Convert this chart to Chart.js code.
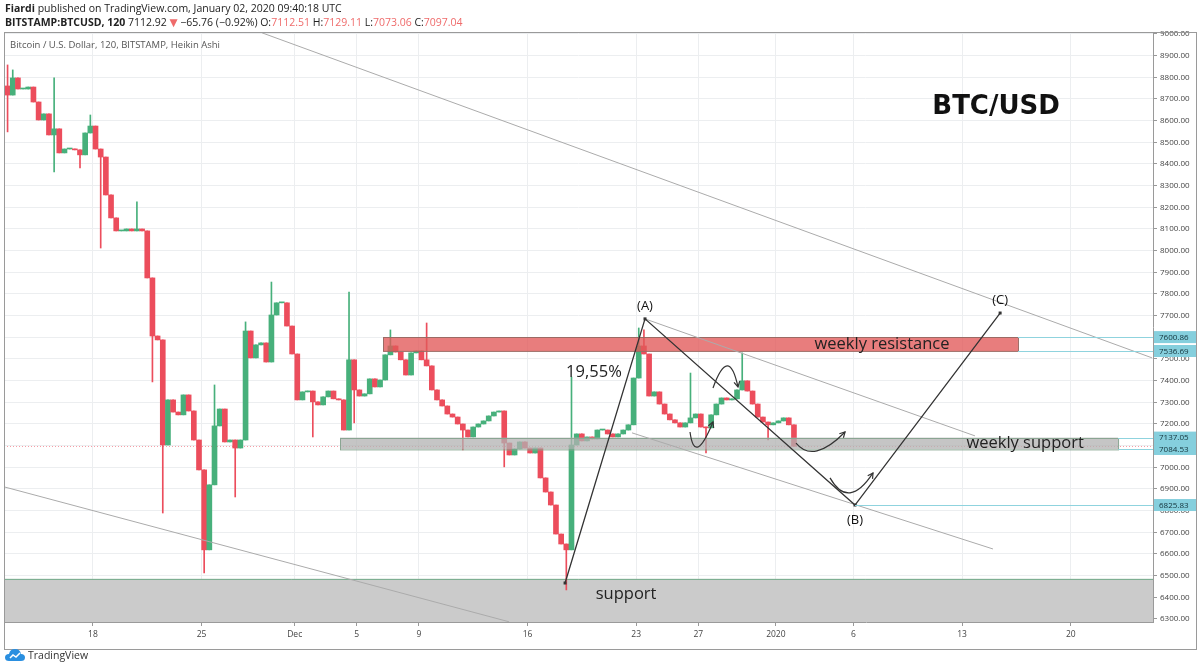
<!DOCTYPE html>
<html>
<head>
<meta charset="utf-8">
<title>BTC/USD Heikin Ashi</title>
<script src="https://cdn.jsdelivr.net/npm/chart.js@4.4.1/dist/chart.umd.min.js"></script>
<style>
    html, body { margin: 0; padding: 0; background: #fff; }
    #wrap { position: relative; width: 1200px; height: 670px; overflow: hidden; font-family: 'Open Sans', 'DejaVu Sans', sans-serif; color: #222; }
    #chart { position: absolute; left: 0; top: 0; }
    .hd { position: absolute; left: 5px; font-size: 10.5px; white-space: nowrap; }
    .hd1 { top: 1px; }
    .hd2 { top: 15px; }
    .hd .r { color: #ef6b6b; }
    .legend { position: absolute; left: 10px; top: 38px; font-size: 9.5px; color: #555; }
    .brand { position: absolute; left: 5px; top: 648px; font-size: 10.5px; color: #333; display: flex; align-items: center; gap: 3px; }
</style>
</head>
<body>
<div id="wrap">
    <canvas id="chart" width="1200" height="670"></canvas>
    <div class="hd hd1"><b>Fiardi</b> published on TradingView.com, January 02, 2020 09:40:18 UTC</div>
    <div class="hd hd2"><b>BITSTAMP:BTCUSD, 120</b> 7112.92 <span class="r">&#9660;</span> &minus;65.76 (&minus;0.92%) O:<span class="r">7112.51</span> H:<span class="r">7129.11</span> L:<span class="r">7073.06</span> C:<span class="r">7097.04</span></div>
    <div class="legend">Bitcoin / U.S. Dollar, 120, BITSTAMP, Heikin Ashi</div>
    <div class="brand">
        <svg width="20" height="14" viewBox="0 0 20 14"><path d="M4 13 Q0 13 0 9.5 Q0 6 4 6 Q5 1 10 1 Q15 1 16 6 Q20 6 20 9.5 Q20 13 16 13 Z" fill="#2a8fe0"/><path d="M5 10 L8 7 L11 9 L15 5" stroke="#fff" stroke-width="1.5" fill="none"/></svg>
        <span>TradingView</span>
    </div>
</div>
<script>
(() => {
    // candles: 8h steps, day numbers counted from Nov 1 (Dec 1 = 31, Jan 1 = 62)
    const startDay = 12.5;
    const stepDay = 1 / 3;
    const firstOpen = 8760;
    const closes = [
        8718, 8797, 8746, 8746, 8755, 8686, 8603, 8631, 8534, 8562,
        8451, 8469, 8469, 8465, 8442, 8543, 8575, 8469, 8432, 8257,
        8151, 8091, 8091, 8100, 8091, 8100, 8091, 7874, 7606, 7588,
        7103, 7311, 7255, 7242, 7334, 7260, 7126, 6988, 6619, 6919,
        7191, 7269, 7117, 7126, 7089, 7126, 7629, 7505, 7565, 7574,
        7486, 7703, 7759, 7759, 7652, 7523, 7311, 7348, 7352, 7302,
        7288, 7325, 7352, 7316, 7311, 7172, 7496, 7357, 7329, 7339,
        7408, 7371, 7403, 7519, 7560, 7532, 7496, 7426, 7528, 7537,
        7496, 7468, 7357, 7311, 7283, 7246, 7232, 7200, 7172, 7140,
        7186, 7200, 7214, 7237, 7255, 7260, 7112, 7057, 7085, 7117,
        7089, 7066, 7089, 6951, 6886, 6826, 6692, 6646, 6619, 7103,
        7154, 7122, 7140, 7131, 7172, 7172, 7154, 7140, 7154, 7172,
        7196, 7412, 7560, 7523, 7329, 7348, 7292, 7246, 7219, 7205,
        7186, 7205, 7228, 7246, 7186, 7182, 7242, 7292, 7320, 7311,
        7316, 7357, 7399, 7352, 7292, 7232, 7209, 7196, 7205, 7214,
        7228, 7196, 7097
    ];
    // [candle index, wick extreme]
    const spikes = [
        [0, 8857], [0, 8548], [1, 8834], [9, 8797], [9, 8363], [14, 8382], [16, 8626],
        [18, 8012], [25, 8225], [28, 7394], [30, 6789], [38, 6512], [40, 7380], [44, 6863],
        [46, 7671], [51, 7855], [59, 7140], [66, 7809], [67, 7205], [74, 7634], [81, 7666],
        [88, 7080], [96, 7002], [108, 6434], [109, 7417], [122, 7643], [123, 7634],
        [132, 7435], [135, 7066], [142, 7528], [147, 7126]
    ];

    const dayTicks = [18, 25, 31, 35, 39, 46, 53, 57, 62, 67, 74, 81];
    const dayLabels = ['18', '25', 'Dec', '5', '9', '16', '23', '27', '2020', '6', '13', '20'];
    const priceTicks = [
        6300, 6400, 6500, 6600, 6700, 6800, 6900, 7000, 7100, 7200, 7300, 7400, 7500, 7600,
        7700, 7800, 7900, 8000, 8100, 8200, 8300, 8400, 8500, 8600, 8700, 8800, 8900, 9000
    ];

    // drawings, in [day, price]
    const supportTop = 6485;
    const lastPrice = 7097.04;
    const resistanceZone = [36.69, 77.6, 7536.69, 7600.86];
    const weeklySupportZone = [33.92, 84.05, 7084.53, 7137.05];
    const channelLines = [
        [[28.9, 9005], [86.24, 7505]],
        [[12.0, 6915], [44.81, 6287]],
        [[53.57, 7685], [74.83, 7145]],
        [[52.73, 7159], [75.99, 6623]]
    ];
    const wavePoints = [[48.42, 6466], [53.57, 7685], [67.1, 6825.83], [76.45, 7712]];
    const waveLabels = ['', '(A)', '(B)', '(C)'];
    const arcs = [
        [[56.47, 7163], [56.99, 7094], [57.95, 7209]],
        [[57.95, 7366], [58.86, 7468], [59.56, 7371]],
        [[63.3, 7112], [64.65, 7076], [66.46, 7163]],
        [[65.49, 6951], [66.78, 6882], [68.26, 6974]]
    ];
    const notes = [
        ['19,55%', 50.28, 7440],
        ['weekly resistance', 68.84, 7568],
        ['weekly support', 78.06, 7110],
        ['support', 52.35, 6415]
    ];
    const title = ['BTC/USD', 76.19, 8663];
    const priceMarks = [7600.86, 7536.69, 7137.05, 7084.53, 6825.83];
    const markStarts = [77.6, 77.6, 84.05, 84.05, 67.1];

    const UP = '#47b07b';
    const DOWN = '#ec4d5c';

    const bodies = [];
    const wicks = [];
    const colors = [];
    closes.forEach((c, k) => {
        const o = k ? closes[k - 1] : firstOpen;
        let hi = Math.max(o, c);
        let lo = Math.min(o, c);
        spikes.filter(s => s[0] === k).forEach(s => {
            hi = Math.max(hi, s[1]);
            lo = Math.min(lo, s[1]);
        });
        const x = startDay + k * stepDay;
        bodies.push({ x: x, y: [o, c] });
        wicks.push({ x: x, y: [lo, hi] });
        colors.push(c >= o ? UP : DOWN);
    });

    function seg(ctx, x1, y1, x2, y2) {
        ctx.beginPath();
        ctx.moveTo(x1, y1);
        ctx.lineTo(x2, y2);
        ctx.stroke();
    }

    function arrowArc(ctx, p0, p1, p2) {
        // p1 is where the curve passes at its middle
        const cx = 2 * p1.x - (p0.x + p2.x) / 2;
        const cy = 2 * p1.y - (p0.y + p2.y) / 2;
        ctx.beginPath();
        ctx.moveTo(p0.x, p0.y);
        ctx.quadraticCurveTo(cx, cy, p2.x, p2.y);
        ctx.stroke();
        const ang = Math.atan2(p2.y - cy, p2.x - cx);
        ctx.beginPath();
        ctx.moveTo(p2.x - 6 * Math.cos(ang - 0.5), p2.y - 6 * Math.sin(ang - 0.5));
        ctx.lineTo(p2.x, p2.y);
        ctx.lineTo(p2.x - 6 * Math.cos(ang + 0.5), p2.y - 6 * Math.sin(ang + 0.5));
        ctx.stroke();
    }

    const drawings = {
        id: 'drawings',
        beforeDatasetsDraw(chart) {
            const { ctx, chartArea: a, scales: { x, y } } = chart;
            ctx.save();
            ctx.beginPath();
            ctx.rect(a.left, a.top, a.right - a.left, a.bottom - a.top);
            ctx.clip();

            const top = y.getPixelForValue(supportTop);
            ctx.fillStyle = '#cbcbcb';
            ctx.fillRect(a.left, top, a.right - a.left, a.bottom - top);
            ctx.strokeStyle = '#74ab8a';
            ctx.lineWidth = 1;
            seg(ctx, a.left, top + 0.5, a.right, top + 0.5);

            const ly = Math.round(y.getPixelForValue(lastPrice)) + 0.5;
            ctx.strokeStyle = 'rgba(236, 77, 92, 0.55)';
            ctx.setLineDash([1, 2]);
            seg(ctx, a.left, ly, a.right, ly);
            ctx.setLineDash([]);
            ctx.restore();
        },
        afterDatasetsDraw(chart) {
            const { ctx, chartArea: a, scales: { x, y } } = chart;
            const P = pt => ({ x: x.getPixelForValue(pt[0]), y: y.getPixelForValue(pt[1]) });
            ctx.save();
            ctx.beginPath();
            ctx.rect(a.left, a.top, a.right - a.left, a.bottom - a.top);
            ctx.clip();

            // zones
            const zone = (z, fill, stroke) => {
                const x1 = x.getPixelForValue(z[0]);
                const x2 = x.getPixelForValue(z[1]);
                const y1 = y.getPixelForValue(z[3]);
                const y2 = y.getPixelForValue(z[2]);
                ctx.fillStyle = fill;
                ctx.fillRect(x1, y1, x2 - x1, y2 - y1);
                ctx.strokeStyle = stroke;
                ctx.lineWidth = 1;
                ctx.strokeRect(Math.round(x1) + 0.5, Math.round(y1) + 0.5, x2 - x1, y2 - y1);
            };
            zone(resistanceZone, 'rgba(226, 88, 88, 0.78)', '#9b6a64');
            zone(weeklySupportZone, 'rgba(178, 178, 178, 0.75)', '#8aa592');

            // channel lines
            ctx.strokeStyle = '#ababab';
            ctx.lineWidth = 1;
            channelLines.forEach(l => {
                const p = P(l[0]);
                const q = P(l[1]);
                seg(ctx, p.x, p.y, q.x, q.y);
            });

            // wave path
            ctx.strokeStyle = '#333';
            ctx.lineWidth = 1.3;
            ctx.beginPath();
            wavePoints.forEach((w, i) => {
                const p = P(w);
                if (i) ctx.lineTo(p.x, p.y); else ctx.moveTo(p.x, p.y);
            });
            ctx.stroke();
            ctx.fillStyle = '#333';
            wavePoints.forEach(w => {
                const p = P(w);
                ctx.fillRect(p.x - 1.5, p.y - 1.5, 3, 3);
            });

            // arrows
            ctx.lineWidth = 1.2;
            arcs.forEach(c => arrowArc(ctx, P(c[0]), P(c[1]), P(c[2])));

            // labels
            ctx.fillStyle = '#111';
            ctx.textAlign = 'center';
            ctx.textBaseline = 'middle';
            ctx.font = '13px "Open Sans", sans-serif';
            wavePoints.forEach((w, i) => {
                if (!waveLabels[i]) return;
                const p = P(w);
                const dy = i === 2 ? 15 : -13;
                ctx.fillText(waveLabels[i], p.x, p.y + dy);
            });
            ctx.fillStyle = '#222';
            ctx.font = '16.5px "Open Sans", sans-serif';
            notes.forEach(n => {
                const p = P([n[1], n[2]]);
                ctx.fillText(n[0], p.x, p.y);
            });
            ctx.fillStyle = '#111';
            ctx.font = 'bold 26px "DejaVu Sans", Verdana, sans-serif';
            const t = P([title[1], title[2]]);
            ctx.fillText(title[0], t.x, t.y);
            ctx.restore();

            // price marks on the axis
            ctx.save();
            ctx.font = '8px "Open Sans", sans-serif';
            ctx.textAlign = 'left';
            ctx.textBaseline = 'middle';
            priceMarks.forEach((p, i) => {
                const yy = Math.round(y.getPixelForValue(p)) + 0.5;
                ctx.strokeStyle = '#8fd3de';
                ctx.lineWidth = 1;
                seg(ctx, x.getPixelForValue(markStarts[i]), yy, a.right, yy);
            });
            priceMarks.forEach(p => {
                const yy = y.getPixelForValue(p);
                ctx.fillStyle = '#85cfdd';
                ctx.fillRect(a.right + 1, yy - 6, 43, 12);
                ctx.fillStyle = '#13323a';
                ctx.fillText(p.toFixed(2), a.right + 6, yy + 0.5);
            });
            ctx.restore();
        },
        afterDraw(chart) {
            const { ctx, chartArea: a } = chart;
            ctx.save();
            ctx.strokeStyle = '#9a9a9a';
            ctx.lineWidth = 1;
            ctx.strokeRect(a.left + 0.5, a.top + 0.5, 1196 - a.left, 649 - a.top);
            ctx.restore();
        }
    };

    const ctx = document.getElementById('chart').getContext('2d');
    new Chart(ctx, {
        type: 'bar',
        data: {
            datasets: [
                {
                    data: wicks,
                    backgroundColor: colors,
                    barThickness: 1,
                    grouped: false,
                    borderWidth: 0,
                    order: 2
                },
                {
                    data: bodies,
                    backgroundColor: colors,
                    barThickness: 5,
                    minBarLength: 1,
                    grouped: false,
                    borderWidth: 0,
                    order: 1
                }
            ]
        },
        options: {
            responsive: false,
            animation: false,
            layout: {
                padding: { left: 4, top: 32, right: 3, bottom: 21 }
            },
            plugins: {
                legend: { display: false },
                tooltip: { enabled: false }
            },
            scales: {
                x: {
                    type: 'linear',
                    min: 12.27,
                    max: 86.3,
                    offset: false,
                    afterBuildTicks: scale => {
                        scale.ticks = dayTicks.map(v => ({ value: v }));
                    },
                    afterFit: scale => {
                        scale.height = 27;
                    },
                    ticks: {
                        autoSkip: false,
                        maxRotation: 0,
                        padding: 3,
                        color: '#444',
                        font: { size: 8.5, family: '"Open Sans", sans-serif' },
                        callback: (value, index) => dayLabels[index]
                    },
                    grid: {
                        offset: false,
                        color: '#eceef0',
                        tickLength: 4,
                        tickColor: '#999'
                    },
                    border: { color: '#9a9a9a' }
                },
                y: {
                    position: 'right',
                    min: 6286,
                    max: 9009,
                    afterBuildTicks: scale => {
                        scale.ticks = priceTicks.map(v => ({ value: v }));
                    },
                    afterFit: scale => {
                        scale.width = 44;
                    },
                    ticks: {
                        padding: 3,
                        color: '#444',
                        font: { size: 8, family: '"Open Sans", sans-serif' },
                        callback: value => value.toFixed(2)
                    },
                    grid: {
                        color: '#eceef0',
                        tickLength: 4,
                        tickColor: '#999'
                    },
                    border: { color: '#9a9a9a' }
                }
            }
        },
        plugins: [drawings]
    });
})();
</script>
</body>
</html>
